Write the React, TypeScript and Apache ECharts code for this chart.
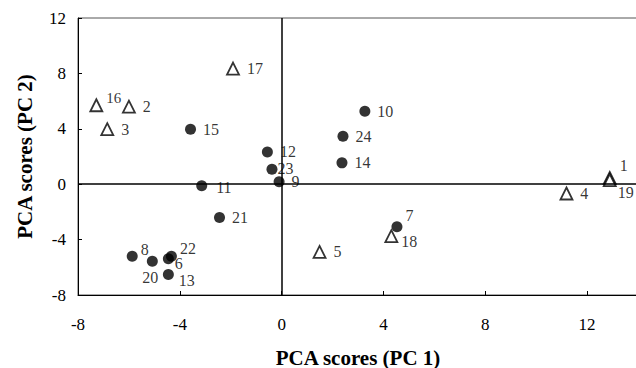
import React, { useEffect, useRef } from "react";
import * as echarts from "echarts";

// Group A (open triangles)
const triIds = ["16", "2", "3", "17", "1", "19", "4", "18", "5"];
const triX = [-7.28, -6.0, -6.85, -1.91, 12.89, 12.89, 11.19, 4.31, 1.49];
const triY = [5.7, 5.6, 3.97, 8.35, 0.45, 0.3, -0.67, -3.75, -4.89];

// Group B (filled circles)
const dotIds = ["15", "12", "23", "9", "11", "10", "24", "14", "21", "8", "20", "6", "22", "13", "7"];
const dotX = [-3.58, -0.56, -0.38, -0.1, -3.14, 3.27, 2.41, 2.37, -2.44, -5.87, -5.08, -4.45, -4.33, -4.45, 4.53];
const dotY = [3.97, 2.33, 1.08, 0.17, -0.12, 5.27, 3.47, 1.54, -2.41, -5.2, -5.56, -5.39, -5.2, -6.52, -3.08];

const xTicks = [-8, -4, 0, 4, 8, 12];
const yTicks = [-8, -4, 0, 4, 8, 12];

// label placement (style only)
const labelStyle: Record<string, any> = {
  "16": { offset: [-4, -7], fontSize: 15 },
  "1": { offset: [-4, -12] },
  "19": { offset: [-6, 12] },
  "8": { offset: [-4, -7] },
  "22": { offset: [-4, -8] },
  "6": { offset: [-6, 5] },
  "20": { position: "bottom", distance: 3, offset: [-2, 0] },
  "13": { offset: [-2, 6] },
  "7": { offset: [-4, -11] },
  "18": { offset: [-4, 5] },
  "23": { offset: [-7, -1] },
  "11": { offset: [2, 2] },
};

const FONT = "'Liberation Serif', 'DejaVu Serif', serif";

function items(ids: string[], xs: number[], ys: number[]) {
  return ids.map((id, i) => ({
    value: [xs[i], ys[i], id],
    label: { show: true, position: "right", distance: 7, ...(labelStyle[id] || {}) },
  }));
}

export default function App() {
  const ref = useRef<HTMLDivElement>(null);
  useEffect(() => {
    if (!ref.current) return;
    const chart = echarts.init(ref.current, undefined, { renderer: "svg" });
    chart.setOption({
      animation: false,
      backgroundColor: "#fff",
      textStyle: { fontFamily: FONT },
      grid: {
        left: 78,
        top: 18,
        right: -2,
        bottom: 73,
        show: true,
        borderColor: "#555",
        borderWidth: 1,
        containLabel: false,
        outerBoundsMode: "none",
      },
      xAxis: {
        type: "value",
        min: -8,
        max: 14,
        interval: 4,
        name: "PCA scores (PC 1)",
        nameLocation: "middle",
        nameGap: 52,
        nameTextStyle: { fontFamily: FONT, fontSize: 21, fontWeight: "bold", color: "#000" },
        axisLine: { show: true, onZero: false, lineStyle: { color: "#000", width: 1 } },
        axisTick: { show: true, inside: true, length: 4, lineStyle: { color: "#000" } },
        axisLabel: {
          fontFamily: FONT,
          fontSize: 17,
          color: "#000",
          margin: 21,
          formatter: (v: number) => (xTicks.includes(v) ? String(v) : ""),
        },
        splitLine: { show: false },
      },
      yAxis: {
        type: "value",
        min: -8,
        max: 12,
        interval: 4,
        name: "PCA scores (PC 2)",
        nameLocation: "middle",
        nameGap: 43,
        nameTextStyle: { fontFamily: FONT, fontSize: 21, fontWeight: "bold", color: "#000" },
        axisLine: { show: true, onZero: false, lineStyle: { color: "#000", width: 1 } },
        axisTick: { show: true, inside: true, length: 4, lineStyle: { color: "#000" } },
        axisLabel: {
          fontFamily: FONT,
          fontSize: 17,
          color: "#000",
          margin: 12,
          formatter: (v: number) => (yTicks.includes(v) ? String(v) : ""),
        },
        splitLine: { show: false },
      },
      series: [
        {
          type: "scatter",
          data: items(triIds, triX, triY),
          symbol: "triangle",
          symbolSize: 12,
          itemStyle: { color: "#fff", borderColor: "#000", borderWidth: 1.8 },
          label: {
            formatter: (p: any) => p.value[2],
            fontFamily: FONT,
            fontSize: 16,
            color: "#000",
          },
          markLine: {
            silent: true,
            symbol: "none",
            label: { show: false },
            lineStyle: { color: "#000", width: 1.5, type: "solid" },
            data: [{ xAxis: 0 }, { yAxis: 0 }],
          },
          z: 3,
        },
        {
          type: "scatter",
          data: items(dotIds, dotX, dotY),
          symbol: "circle",
          symbolSize: 11,
          itemStyle: { color: "#000" },
          label: {
            formatter: (p: any) => p.value[2],
            fontFamily: FONT,
            fontSize: 16,
            color: "#000",
          },
          z: 3,
        },
      ],
    });
    return () => chart.dispose();
  }, []);
  return <div ref={ref} style={{ width: 636, height: 368, position: "absolute", left: 0, top: 0 }} />;
}
